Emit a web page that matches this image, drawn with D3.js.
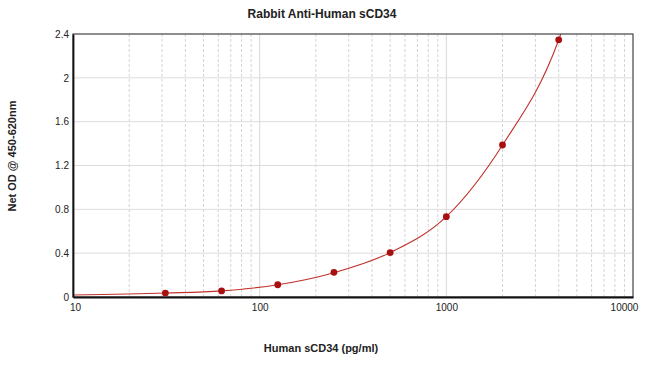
<!DOCTYPE html>
<html lang="en">
  <head>
    <meta charset="UTF-8" />
    <title>Rabbit Anti-Human sCD34</title>
    <script src="https://d3js.org/d3.v7.min.js"></script>
    <style>
      html,
      body {
        margin: 0;
        padding: 0;
        background: #fff;
      }
      svg text {
        font-family: "Liberation Sans", Arial, sans-serif;
        fill: #222;
      }
    </style>
  </head>
  <body>
    <div id="viz"></div>
    <script>
      // standard points
      const concentrations = [31.25, 62.5, 125, 250, 500, 1000, 2000, 4000];
      const odValues = [0.036, 0.055, 0.112, 0.225, 0.405, 0.733, 1.387, 2.347];

      // fitted curve, read at its ends (x=10 and just past the top edge)
      const fitX = [10, 31.25, 62.5, 125, 250, 500, 1000, 2000, 4000, 4300];
      const fitY = [0.018, 0.036, 0.056, 0.112, 0.222, 0.405, 0.733, 1.387, 2.347, 2.5];

      const xTicks = [10, 100, 1000, 10000];
      const yTicks = [0, 0.4, 0.8, 1.2, 1.6, 2, 2.4];

      const width = 650;
      const height = 371;
      const margin = { top: 34, right: 17, bottom: 74, left: 73 };
      const innerW = width - margin.left - margin.right;
      const innerH = height - margin.top - margin.bottom;

      const svg = d3
        .select("#viz")
        .append("svg")
        .attr("width", width)
        .attr("height", height);

      const viz = svg
        .append("g")
        .attr("transform", `translate(${margin.left},${margin.top})`);

      const xScale = d3.scaleLog().domain([10, 10000]).range([0, innerW]);
      const yScale = d3.scaleLinear().domain([0, 2.4]).range([innerH, 0]);

      // vertical grid: minor dashed, decades solid
      const minor = [];
      for (let d = 10; d < 10000; d *= 10) {
        for (let k = 2; k <= 9; k++) minor.push(d * k);
      }
      viz
        .selectAll("line.vminor")
        .data(minor)
        .join("line")
        .attr("class", "vminor")
        .attr("x1", (d) => xScale(d))
        .attr("x2", (d) => xScale(d))
        .attr("y1", 0)
        .attr("y2", innerH)
        .attr("stroke", "#d4d4d4")
        .attr("stroke-dasharray", "3,2");

      viz
        .selectAll("line.vmajor")
        .data(xTicks.slice(1, -1))
        .join("line")
        .attr("class", "vmajor")
        .attr("x1", (d) => xScale(d))
        .attr("x2", (d) => xScale(d))
        .attr("y1", 0)
        .attr("y2", innerH)
        .attr("stroke", "#d8d8d8");

      viz
        .selectAll("line.hgrid")
        .data(yTicks.slice(1, -1))
        .join("line")
        .attr("class", "hgrid")
        .attr("x1", 0)
        .attr("x2", innerW)
        .attr("y1", (d) => yScale(d))
        .attr("y2", (d) => yScale(d))
        .attr("stroke", "#dcdcdc");

      // fitted curve
      viz
        .append("clipPath")
        .attr("id", "plotClip")
        .append("rect")
        .attr("width", innerW)
        .attr("height", innerH);

      const line = d3
        .line()
        .x((d) => xScale(d[0]))
        .y((d) => yScale(d[1]))
        .curve(d3.curveMonotoneX);

      viz
        .append("path")
        .datum(fitX.map((x, i) => [x, fitY[i]]))
        .attr("clip-path", "url(#plotClip)")
        .attr("fill", "none")
        .attr("stroke", "#c0322c")
        .attr("stroke-width", 1.1)
        .attr("d", line);

      // border box
      viz
        .append("rect")
        .attr("width", innerW)
        .attr("height", innerH)
        .attr("fill", "none")
        .attr("stroke", "#444")
        .attr("stroke-width", 1.2);

      // axes (no tick marks)
      const xAxis = d3
        .axisBottom(xScale)
        .tickValues(xTicks)
        .tickFormat(d3.format("d"))
        .tickSize(0)
        .tickPadding(7);
      const gx = viz
        .append("g")
        .attr("transform", `translate(0,${innerH})`)
        .call(xAxis);
      gx.select(".domain").attr("stroke", "#111").attr("stroke-width", 1.8);
      gx.selectAll("text")
        .style("font-size", "10px")
        .attr("fill", "#222")
        .attr("dx", (d, i) => (i === 0 ? "2" : i === xTicks.length - 1 ? "-9" : "0"));

      const yAxis = d3
        .axisLeft(yScale)
        .tickValues(yTicks)
        .tickFormat((d) => d)
        .tickSize(0)
        .tickPadding(4);
      const gy = viz.append("g").call(yAxis);
      gy.select(".domain").attr("stroke", "#111").attr("stroke-width", 1.8);
      gy.selectAll("text").style("font-size", "10px").attr("fill", "#222");

      // points
      viz
        .selectAll("circle.pt")
        .data(concentrations)
        .join("circle")
        .attr("class", "pt")
        .attr("cx", (d) => xScale(d))
        .attr("cy", (d, i) => yScale(odValues[i]))
        .attr("r", 3.4)
        .attr("fill", "#a80f0f");

      // titles
      svg
        .append("text")
        .attr("x", 322)
        .attr("y", 18)
        .attr("text-anchor", "middle")
        .style("font-size", "12px")
        .style("font-weight", "bold")
        .text("Rabbit Anti-Human sCD34");

      svg
        .append("text")
        .attr("x", 321)
        .attr("y", 352)
        .attr("text-anchor", "middle")
        .style("font-size", "11px")
        .style("font-weight", "bold")
        .text("Human sCD34 (pg/ml)");

      svg
        .append("text")
        .attr("transform", "translate(16,156) rotate(-90)")
        .attr("text-anchor", "middle")
        .style("font-size", "11px")
        .style("font-weight", "bold")
        .text("Net OD @ 450-620nm");
    </script>
  </body>
</html>
